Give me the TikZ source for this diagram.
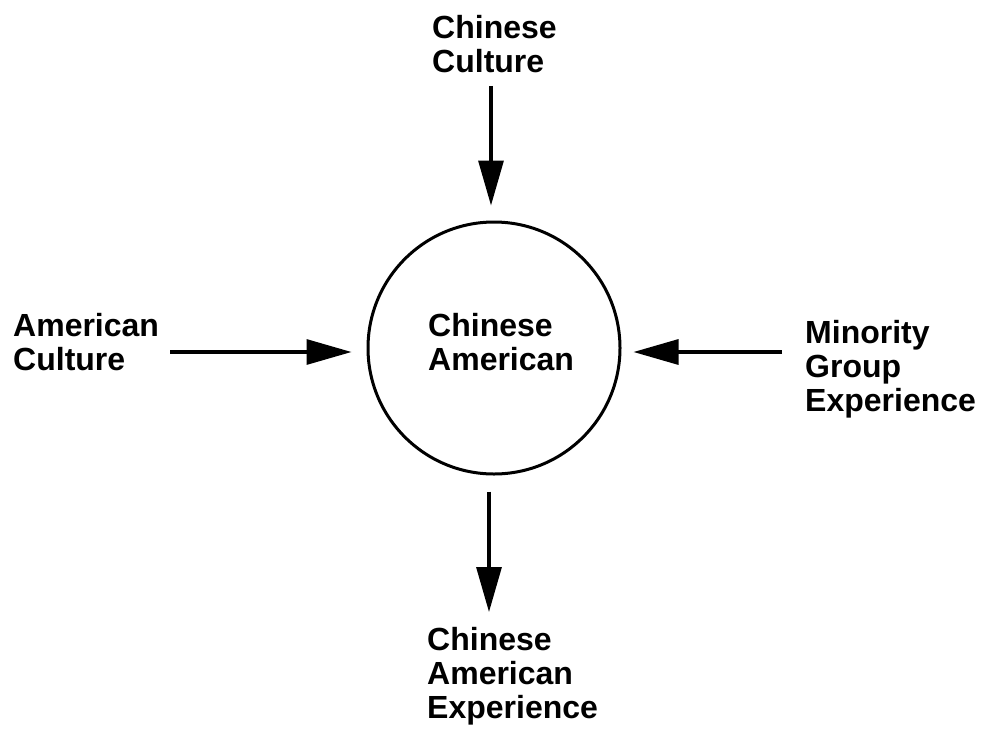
\documentclass[tikz,border=0pt]{standalone}
\usepackage{fontspec}
\setmainfont{Liberation Sans}
\usetikzlibrary{arrows.meta}

\begin{document}
\begin{tikzpicture}[x=1pt, y=-1pt,
  every node/.style={font=\fontsize{32}{34}\selectfont\bfseries},
  lbl/.style={anchor=north west, inner sep=0pt, align=left},
  flow/.style={line width=3.2pt, -{Triangle[length=45pt, width=25pt]}}]
  \useasboundingbox (0,0) rectangle (985,734);

  % centre
  \node[circle, draw, line width=3pt, minimum size=252pt, inner sep=0pt] (circ) at (494,348) {};
  \node[lbl] (ca) at (428,313) {Chinese\\American};

  % sources and result
  \node[lbl] (ccult) at (432,15) {Chinese\\Culture};
  \node[lbl] (acult) at (13,313) {American\\Culture};
  \node[lbl] (minor) at (805,320) {Minority\\Group\\Experience};
  \node[lbl] (cae) at (427,627) {Chinese\\American\\Experience};

  \draw[flow, shorten <=13pt, shorten >=15pt] ([xshift=-3pt]ccult.south -| circ.north) -- ([xshift=-3pt]circ.north);
  \draw[flow, shorten <=11pt, shorten >=15pt] ([yshift=-4pt]acult.east |- circ.west) -- ([yshift=-4pt]circ.west);
  \draw[flow, shorten <=23pt, shorten >=12pt] ([yshift=-4pt]minor.west |- circ.east) -- ([yshift=-4pt]circ.east);
  \draw[flow, shorten <=16pt, shorten >=15pt] ([xshift=-5pt]circ.south) -- ([xshift=-5pt]circ.south |- cae.north);
\end{tikzpicture}
\end{document}
